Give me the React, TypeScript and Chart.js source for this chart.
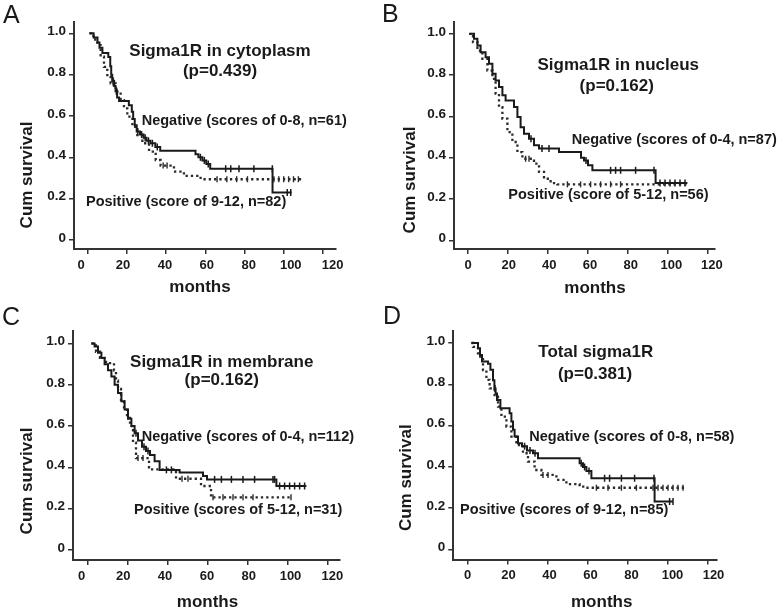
import React, { useEffect, useRef } from "react";
import { Chart, registerables } from "chart.js";

Chart.register(...registerables);

const FONT = '"Liberation Sans", Arial, Helvetica, sans-serif';
const INK = "#1a1a1a";
const AXIS = "#333333";

// ---------- ticks ----------
const X_TICKS = [0, 20, 40, 60, 80, 100, 120];
const Y_TICKS = [0, 0.2, 0.4, 0.6, 0.8, 1.0];
const Y_TICK_LABELS = ["0", "0.2", "0.4", "0.6", "0.8", "1.0"];

// ---------- Panel A: Sigma1R in cytoplasm ----------
const A_NEG_T = [0.8, 3, 5, 6, 7.5, 10.5, 11.5, 12, 12.5, 13.5, 14.2, 15, 16, 21, 22.5, 23.2, 24, 25, 26.7, 28.5, 30, 32, 34.5, 37, 55, 56.5, 58.5, 60.5, 62.5, 94.3, 104];
const A_NEG_S = [1.0, 0.98, 0.955, 0.93, 0.905, 0.885, 0.84, 0.8, 0.77, 0.745, 0.72, 0.69, 0.672, 0.652, 0.62, 0.585, 0.555, 0.525, 0.51, 0.495, 0.48, 0.468, 0.45, 0.432, 0.415, 0.4, 0.385, 0.368, 0.345, 0.23, 0.23];
const A_NEG_CENSOR = [13, 14.6, 25.5, 27.5, 29.3, 31, 33, 35.5, 57.5, 59.5, 61.5, 70.4, 73, 77.2, 84.8, 94.2, 101.8, 103.6];
const A_POS_T = [1, 3, 4.9, 6.6, 8.3, 10, 11.7, 14.3, 16.8, 18.5, 20.2, 22.8, 25.3, 27.9, 31.3, 34.7, 37.2, 44, 49.1, 57.6, 109];
const A_POS_S = [1.0, 0.97, 0.943, 0.887, 0.838, 0.798, 0.758, 0.718, 0.677, 0.637, 0.597, 0.548, 0.508, 0.468, 0.428, 0.387, 0.36, 0.331, 0.31, 0.294, 0.294];
const A_POS_CENSOR = [13, 15, 38.5, 40.5, 66, 71, 76, 81.5, 95, 97.5, 100, 102.5, 105, 107.5];

// ---------- Panel B: Sigma1R in nucleus ----------
const B_NEG_T = [1.3, 3, 4.7, 6.3, 8.8, 10.5, 12.2, 13.8, 15.5, 17.2, 18.8, 23, 24.7, 26.3, 28, 30.5, 33, 35.5, 45.5, 56.5, 58, 60, 62.2, 93.8, 109.7];
const B_NEG_S = [1.0, 0.976, 0.943, 0.911, 0.887, 0.855, 0.806, 0.774, 0.742, 0.702, 0.677, 0.645, 0.597, 0.548, 0.516, 0.492, 0.46, 0.444, 0.427, 0.4, 0.387, 0.363, 0.339, 0.278, 0.278];
const B_NEG_CENSOR = [31.5, 37, 40.5, 59, 71.3, 73.8, 76.3, 83.8, 93, 96, 98.5, 101, 103.5, 106, 108.5];
const B_POS_T = [0.5, 2.5, 4.7, 7.2, 9.7, 12.2, 13.8, 15.5, 17.2, 19.7, 22.2, 24.7, 27.2, 33, 35.5, 38, 41.3, 44.7, 109.7];
const B_POS_S = [1.0, 0.96, 0.919, 0.879, 0.822, 0.782, 0.71, 0.645, 0.589, 0.524, 0.476, 0.427, 0.395, 0.371, 0.331, 0.298, 0.277, 0.271, 0.271];
const B_POS_CENSOR = [28.8, 30.5, 49.7, 56.3, 61.3, 66.3, 71.3, 76.3];

// ---------- Panel C: Sigma1R in membrane ----------
const C_NEG_T = [1.7, 3.3, 5, 6.7, 8.3, 10, 11.7, 13.3, 15, 16.7, 18.3, 20, 21.7, 23.3, 25, 27, 29, 31, 33.3, 35.8, 45.8, 57.5, 59.5, 94.2, 109.2];
const C_NEG_S = [1.0, 0.985, 0.955, 0.93, 0.9, 0.87, 0.84, 0.8, 0.76, 0.72, 0.68, 0.635, 0.6, 0.565, 0.53, 0.5, 0.48, 0.46, 0.43, 0.388, 0.375, 0.358, 0.342, 0.31, 0.31];
const C_NEG_CENSOR = [24, 28, 30, 39.2, 41.7, 63.3, 66.7, 71.7, 77.5, 83.3, 92.5, 93.3, 95.8, 98.3, 100.8, 103.3, 105.8, 108.3];
const C_POS_T = [1.7, 4, 6, 9, 13, 14, 15, 16.5, 18, 19.5, 21, 22.5, 24, 30.5, 44, 56.5, 61.5, 101.8];
const C_POS_S = [1.0, 0.96, 0.93, 0.905, 0.87, 0.82, 0.78, 0.72, 0.68, 0.64, 0.6, 0.52, 0.445, 0.39, 0.345, 0.31, 0.255, 0.255];
const C_POS_CENSOR = [25, 27.5, 47, 50, 62.5, 67.5, 72.5, 77.5, 82.5, 101.5];

// ---------- Panel D: Total sigma1R ----------
const D_NEG_T = [1.7, 5, 6, 7, 10, 11.2, 12.5, 13.2, 13.8, 14.5, 16.2, 20.8, 21.7, 22.5, 23.3, 25, 27, 29.5, 32.5, 35, 55.8, 57.5, 59.2, 61.7, 93.3, 102.5];
const D_NEG_S = [1.0, 0.975, 0.942, 0.91, 0.9, 0.87, 0.82, 0.78, 0.755, 0.724, 0.684, 0.66, 0.62, 0.58, 0.547, 0.515, 0.5, 0.48, 0.466, 0.442, 0.418, 0.4, 0.38, 0.345, 0.232, 0.232];
const D_NEG_CENSOR = [13.5, 28.3, 31, 33.5, 56.6, 58.3, 60.5, 68.3, 70.8, 76.7, 83.3, 93, 100.8, 102.5];
const D_POS_T = [1.7, 2.5, 5, 7.5, 9.2, 10.8, 13.3, 15, 16.7, 19.2, 21.7, 24.2, 27.5, 30, 33.3, 36.7, 44.2, 49.2, 55.8, 58.3, 109.2];
const D_POS_S = [1.0, 0.981, 0.934, 0.869, 0.821, 0.78, 0.74, 0.692, 0.643, 0.595, 0.547, 0.506, 0.466, 0.426, 0.385, 0.361, 0.337, 0.317, 0.304, 0.299, 0.299];
const D_POS_CENSOR = [37.5, 40, 64.2, 70, 76.7, 84.2, 92.5, 95, 97.5, 100, 102.5, 105, 107.5];

// ---------- panel layout (page pixels) ----------
const PANELS = [
  {
    letter: "A", letterX: 3, letterY: 23,
    ox: 0, oy: 0, w: 380, h: 306,
    area: { l: 74, r: 336, t: 22, b: 249 },
    x0: 87.7, xppu: 1.96, lab0: 81, labppu: 2.0975, labY: 265,
    y0: 240, yppu: 206.7,
    title: "Sigma1R in cytoplasm", titleX: 220, titleY: 51.7,
    pval: "(p=0.439)", pX: 220, pY: 71.7,
    neg: "Negative (scores of 0-8, n=61)", negX: 141.7, negY: 120.7,
    pos: "Positive (score of 9-12, n=82)", posX: 86, posY: 202.3,
    yTitleX: 27.5, yTitleY: 175, xTitleX: 200, xTitleY: 287,
    negT: A_NEG_T, negS: A_NEG_S, negC: A_NEG_CENSOR,
    posT: A_POS_T, posS: A_POS_S, posC: A_POS_CENSOR,
  },
  {
    letter: "B", letterX: 382, letterY: 22,
    ox: 380, oy: 0, w: 400, h: 306,
    area: { l: 454, r: 715, t: 22, b: 249 },
    x0: 468, xppu: 2.0, lab0: 468, labppu: 2.033, labY: 265,
    y0: 240.3, yppu: 206.5,
    title: "Sigma1R in nucleus", titleX: 618.3, titleY: 65,
    pval: "(p=0.162)", pX: 616.7, pY: 86.7,
    neg: "Negative (scores of 0-4, n=87)", negX: 571.7, negY: 140,
    pos: "Positive (score of 5-12, n=56)", posX: 508.3, posY: 195,
    yTitleX: 410.7, yTitleY: 180, xTitleX: 595, xTitleY: 288.3,
    negT: B_NEG_T, negS: B_NEG_S, negC: B_NEG_CENSOR,
    posT: B_POS_T, posS: B_POS_S, posC: B_POS_CENSOR,
  },
  {
    letter: "C", letterX: 2, letterY: 325,
    ox: 0, oy: 306, w: 380, h: 306,
    area: { l: 73, r: 340, t: 331, b: 560 },
    x0: 88, xppu: 2.0, lab0: 81.5, labppu: 2.09, labY: 576,
    y0: 550, yppu: 206.5,
    title: "Sigma1R in membrane", titleX: 221.7, titleY: 362.7,
    pval: "(p=0.162)", pX: 221.7, pY: 380,
    neg: "Negative (scores of 0-4, n=112)", negX: 141.7, negY: 436.7,
    pos: "Positive (scores of 5-12, n=31)", posX: 134, posY: 510,
    yTitleX: 27.5, yTitleY: 481, xTitleX: 207.5, xTitleY: 602.7,
    negT: C_NEG_T, negS: C_NEG_S, negC: C_NEG_CENSOR,
    posT: C_POS_T, posS: C_POS_S, posC: C_POS_CENSOR,
  },
  {
    letter: "D", letterX: 383, letterY: 324,
    ox: 380, oy: 306, w: 400, h: 306,
    area: { l: 453.3, r: 716.7, t: 331, b: 559.5 },
    x0: 468, xppu: 2.0, lab0: 467.5, labppu: 2.05, labY: 575.5,
    y0: 549.5, yppu: 206.5,
    title: "Total sigma1R", titleX: 595.8, titleY: 352.7,
    pval: "(p=0.381)", pX: 595, pY: 374.3,
    neg: "Negative (scores of 0-8, n=58)", negX: 529.3, negY: 436.7,
    pos: "Positive (scores of 9-12, n=85)", posX: 460, posY: 510,
    yTitleX: 406.7, yTitleY: 477.7, xTitleX: 601.7, xTitleY: 602.7,
    negT: D_NEG_T, negS: D_NEG_S, negC: D_NEG_CENSOR,
    posT: D_POS_T, posS: D_POS_S, posC: D_POS_CENSOR,
  },
];

function survAt(times: number[], surv: number[], t: number) {
  let v = surv[0];
  for (let i = 0; i < times.length; i++) if (times[i] <= t) v = surv[i];
  return v;
}
const stepPoints = (times: number[], surv: number[]) => times.map((t, i) => ({ x: t, y: surv[i] }));
const censorPoints = (times: number[], surv: number[], cens: number[]) =>
  cens.map((t) => ({ x: t, y: survAt(times, surv, t) }));

function drawPanelText(chart: any, p: any) {
  const ctx = chart.ctx as CanvasRenderingContext2D;
  const ox = p.ox, oy = p.oy;
  ctx.save();
  ctx.fillStyle = INK;
  // panel letter
  ctx.font = `400 25px ${FONT}`;
  ctx.textAlign = "left";
  ctx.textBaseline = "alphabetic";
  ctx.fillText(p.letter, p.letterX - ox, p.letterY - oy);
  // title + p value
  ctx.textBaseline = "middle";
  ctx.textAlign = "center";
  ctx.font = `bold 17px ${FONT}`;
  ctx.fillText(p.title, p.titleX - ox, p.titleY - oy);
  ctx.fillText(p.pval, p.pX - ox, p.pY - oy);
  // group labels
  ctx.textAlign = "left";
  ctx.font = `bold 14.5px ${FONT}`;
  ctx.fillText(p.neg, p.negX - ox, p.negY - oy);
  ctx.fillText(p.pos, p.posX - ox, p.posY - oy);
  // x title
  ctx.textAlign = "center";
  ctx.font = `bold 17px ${FONT}`;
  ctx.fillText("months", p.xTitleX - ox, p.xTitleY - oy);
  // y title
  ctx.translate(p.yTitleX - ox, p.yTitleY - oy);
  ctx.rotate(-Math.PI / 2);
  ctx.fillText("Cum survival", 0, 0);
  ctx.restore();
}

function Panel({ p }: { p: any }) {
  const ref = useRef<HTMLCanvasElement>(null);
  useEffect(() => {
    const a = p.area;
    const xMin = (a.l - p.x0) / p.xppu;
    const xMax = (a.r - p.x0) / p.xppu;
    const lMin = (a.l - p.lab0) / p.labppu;
    const lMax = (a.r - p.lab0) / p.labppu;
    const yMin = (p.y0 - a.b) / p.yppu;
    const yMax = (p.y0 - a.t) / p.yppu;
    const tickAxisH = 6;
    const labelAxisH = p.oy + p.h - a.b - tickAxisH;
    const xFontSize = 13;
    const labelPad = p.labY - a.b - tickAxisH - (xFontSize * 1.2) / 2;
    const xTickFont = { family: FONT, size: xFontSize, weight: "bold" as const };
    const yTickFont = { family: FONT, size: 13.5, weight: "bold" as const };

    const chart = new Chart(ref.current!, {
      type: "line",
      data: {
        datasets: [
          {
            type: "line",
            data: stepPoints(p.negT, p.negS),
            stepped: "before",
            borderColor: INK,
            borderWidth: 2,
            pointRadius: 0,
            fill: false,
            xAxisID: "x",
            yAxisID: "y",
          },
          {
            type: "line",
            data: stepPoints(p.posT, p.posS),
            stepped: "before",
            borderColor: "#2a2a2a",
            borderWidth: 2.3,
            borderDash: [2.3, 3],
            pointRadius: 0,
            fill: false,
            xAxisID: "x",
            yAxisID: "y",
          },
          {
            type: "scatter",
            data: censorPoints(p.negT, p.negS, p.negC),
            showLine: false,
            pointStyle: "line",
            pointRotation: 90,
            pointRadius: 3.5,
            pointBorderWidth: 1.5,
            pointBorderColor: INK,
            xAxisID: "x",
            yAxisID: "y",
          },
          {
            type: "scatter",
            data: censorPoints(p.posT, p.posS, p.posC),
            showLine: false,
            pointStyle: "line",
            pointRotation: 90,
            pointRadius: 3,
            pointBorderWidth: 1.4,
            pointBorderColor: "#2a2a2a",
            xAxisID: "x",
            yAxisID: "y",
          },
        ] as any,
      },
      options: {
        responsive: false,
        animation: false,
        events: [],
        layout: {
          padding: { left: 0, top: a.t - p.oy, right: p.ox + p.w - a.r, bottom: 0 },
        },
        plugins: {
          legend: { display: false },
          tooltip: { enabled: false },
          title: { display: false },
        },
        scales: {
          x: {
            type: "linear",
            position: "bottom",
            weight: 0,
            min: xMin,
            max: xMax,
            afterBuildTicks: (s: any) => {
              s.ticks = X_TICKS.map((v) => ({ value: v }));
            },
            afterFit: (s: any) => {
              s.height = tickAxisH;
            },
            ticks: { display: false },
            grid: {
              display: true,
              drawOnChartArea: false,
              drawTicks: true,
              tickLength: 5,
              color: AXIS,
              lineWidth: 1.5,
            },
            border: { display: true, color: AXIS, width: 2 },
          },
          xl: {
            type: "linear",
            axis: "x",
            position: "bottom",
            weight: 1,
            min: lMin,
            max: lMax,
            afterBuildTicks: (s: any) => {
              s.ticks = X_TICKS.map((v) => ({ value: v }));
            },
            afterFit: (s: any) => {
              s.height = labelAxisH;
            },
            ticks: {
              display: true,
              autoSkip: false,
              maxRotation: 0,
              padding: labelPad,
              font: xTickFont,
              color: INK,
              callback: (v: any) => String(v),
            },
            grid: { display: false, drawTicks: false },
            border: { display: false },
          },
          y: {
            type: "linear",
            position: "left",
            min: yMin,
            max: yMax,
            afterBuildTicks: (s: any) => {
              s.ticks = Y_TICKS.map((v) => ({ value: v }));
            },
            afterFit: (s: any) => {
              s.width = a.l - p.ox;
            },
            ticks: {
              autoSkip: false,
              padding: 3,
              labelOffset: -2,
              font: yTickFont,
              color: INK,
              callback: (_v: any, i: number) => Y_TICK_LABELS[i],
            },
            grid: {
              display: true,
              drawOnChartArea: false,
              drawTicks: true,
              tickLength: 5,
              color: AXIS,
              lineWidth: 1.5,
            },
            border: { display: true, color: AXIS, width: 2 },
          },
        } as any,
      },
      plugins: [
        {
          id: "panelText",
          afterDraw: (c: any) => drawPanelText(c, p),
        },
      ],
    });
    return () => chart.destroy();
  }, [p]);

  return (
    <canvas
      ref={ref}
      width={p.w}
      height={p.h}
      style={{ position: "absolute", left: p.ox, top: p.oy, width: p.w, height: p.h }}
    />
  );
}

export default function App() {
  return (
    <div
      style={{
        position: "absolute",
        left: 0,
        top: 0,
        width: 780,
        height: 612,
        background: "#ffffff",
        overflow: "hidden",
      }}
    >
      {PANELS.map((p) => (
        <Panel key={p.letter} p={p} />
      ))}
    </div>
  );
}
